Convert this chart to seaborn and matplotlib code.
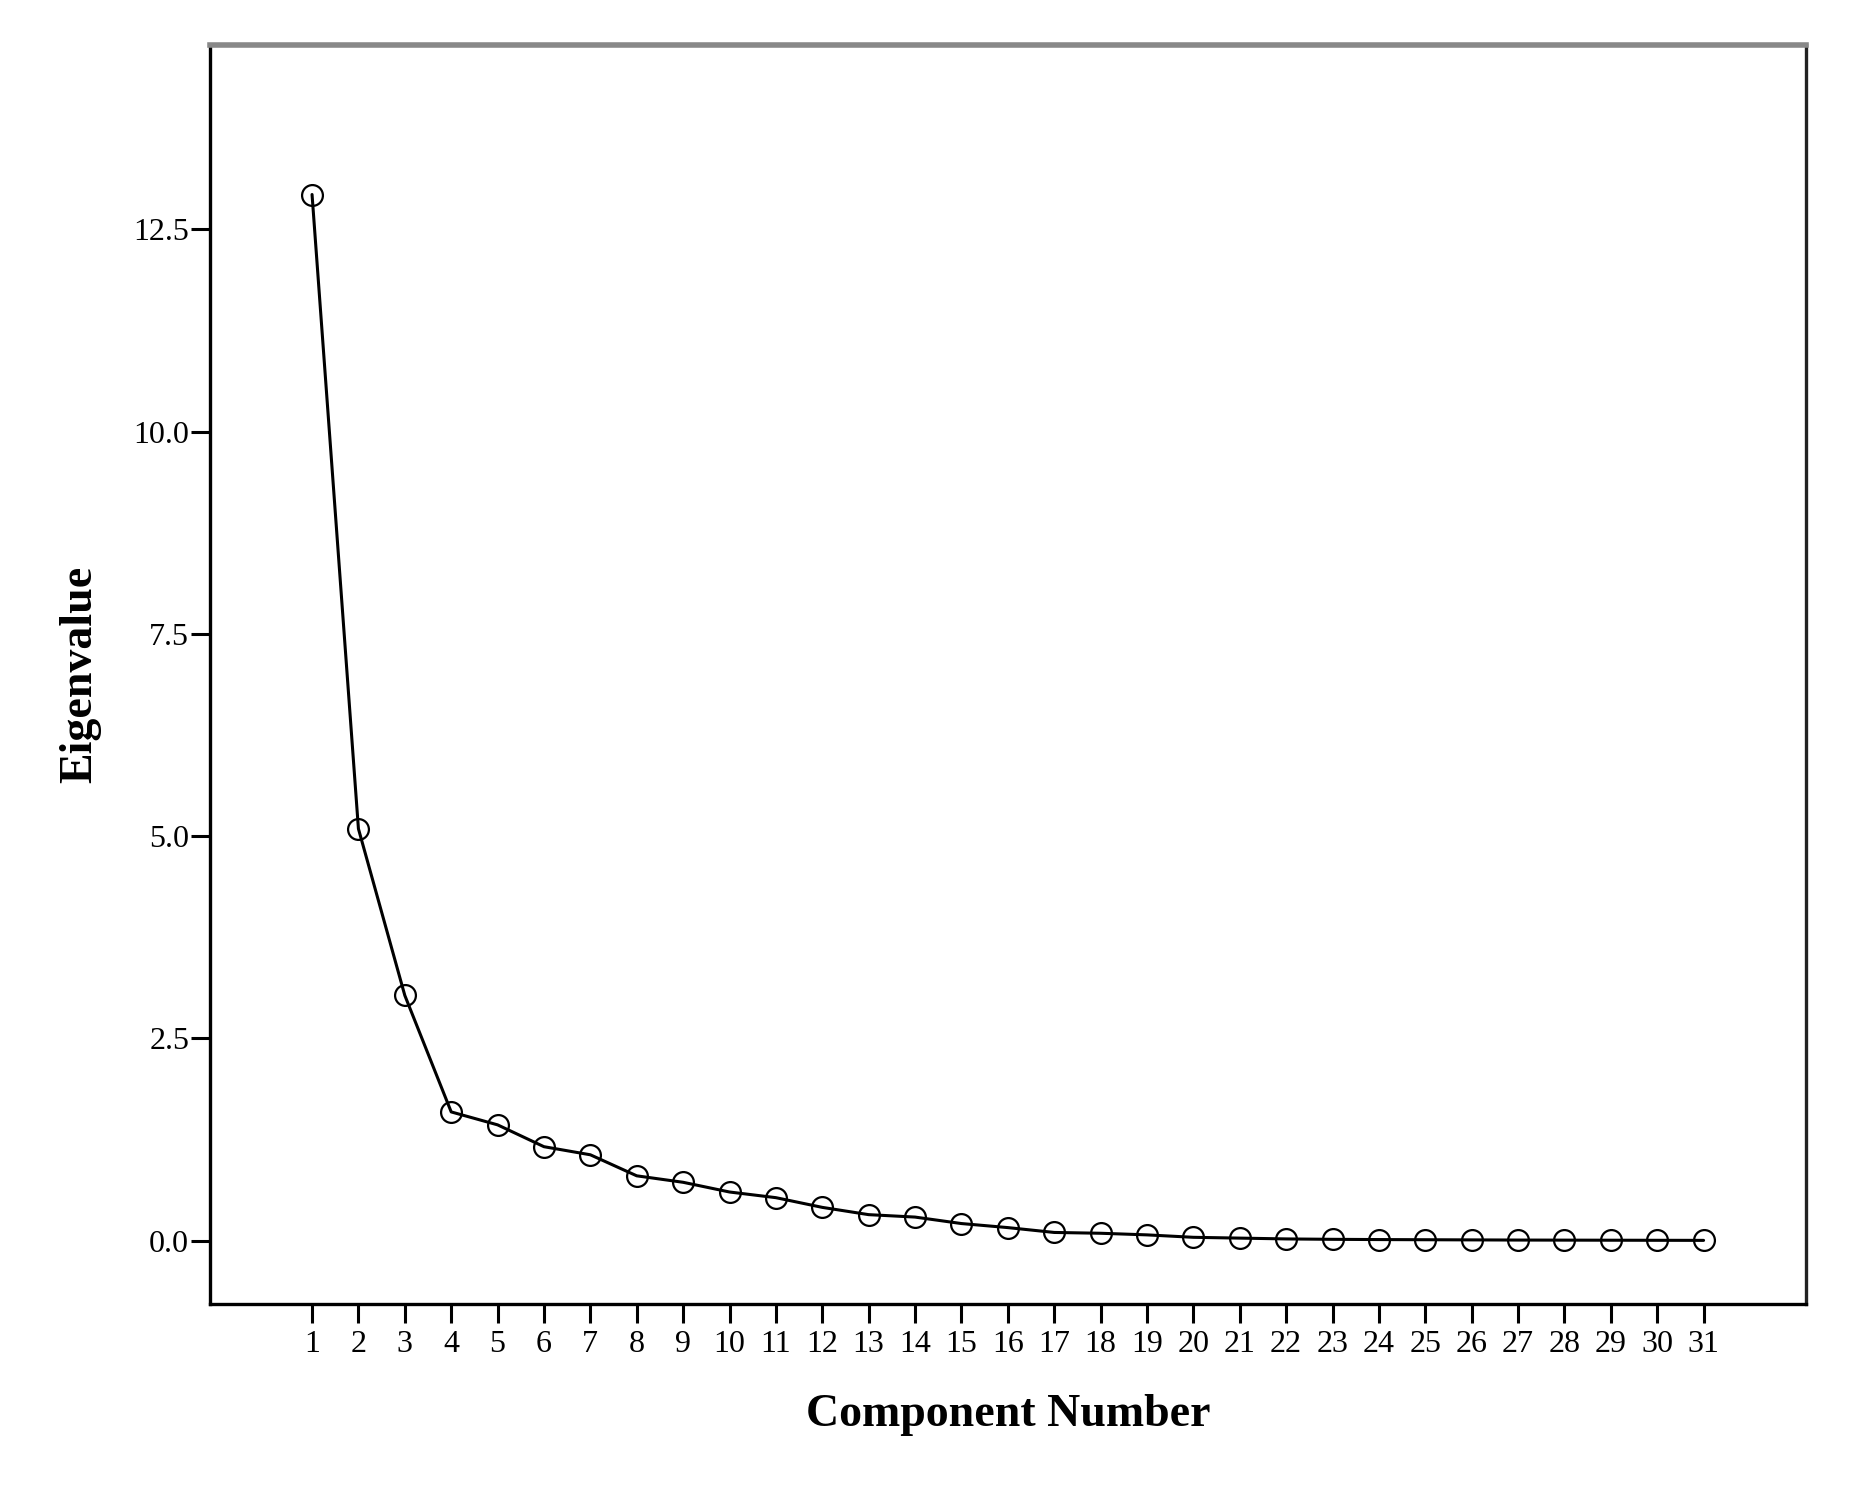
import matplotlib
matplotlib.use("Agg")
import matplotlib.pyplot as plt
import seaborn as sns
import pandas as pd
from matplotlib.ticker import FormatStrFormatter

components = list(range(1, 32))
eigenvalues = [12.93, 5.09, 3.03, 1.59, 1.43, 1.16, 1.06, 0.80, 0.72, 0.60,
               0.53, 0.41, 0.32, 0.29, 0.21, 0.16, 0.10, 0.09, 0.07, 0.04,
               0.03, 0.02, 0.015, 0.012, 0.01, 0.008, 0.006, 0.005, 0.004, 0.003, 0.002]
y_ticks = [0.0, 2.5, 5.0, 7.5, 10.0, 12.5]
x_label = "Component Number"
y_label = "Eigenvalue"

df = pd.DataFrame({"Component": components, "Eigenvalue": eigenvalues})

sns.set_style("white")
plt.rcParams["font.family"] = ["Liberation Serif", "DejaVu Serif"]

fig = plt.figure(figsize=(18.75, 14.95), dpi=100)
ax = fig.add_axes([0.112, 0.128, 0.851, 0.842])

sns.lineplot(data=df, x="Component", y="Eigenvalue", ax=ax, color="black",
             linewidth=2.2, marker="o", markersize=15, markerfacecolor="none",
             markeredgecolor="black", markeredgewidth=1.6)

ax.set_xlim(-1.2, 33.2)
ax.set_ylim(-0.78, 14.78)
ax.set_xticks(components)
ax.set_xticklabels([str(c) for c in components])
ax.set_yticks(y_ticks)
ax.yaxis.set_major_formatter(FormatStrFormatter("%.1f"))

ax.tick_params(axis="both", which="major", direction="out", length=14, width=2.2,
               color="black", labelsize=23, labelcolor="black")
ax.tick_params(axis="y", pad=1)
ax.tick_params(axis="x", pad=5)
ax.xaxis.set_ticks_position("bottom")
ax.yaxis.set_ticks_position("left")

for side in ["left", "bottom"]:
    ax.spines[side].set_color("black")
    ax.spines[side].set_linewidth(2.4)
ax.spines["right"].set_color("#222222")
ax.spines["right"].set_linewidth(2.4)
ax.spines["top"].set_color("#888888")
ax.spines["top"].set_linewidth(4)
for s in ax.spines.values():
    s.set_visible(True)

ax.set_xlabel(x_label, fontsize=33, fontweight="bold", labelpad=25, color="black")
ax.set_ylabel(y_label, fontsize=33, fontweight="bold", labelpad=23, color="black")
ax.grid(False)

fig.savefig("out.png", dpi=100, facecolor="white")
